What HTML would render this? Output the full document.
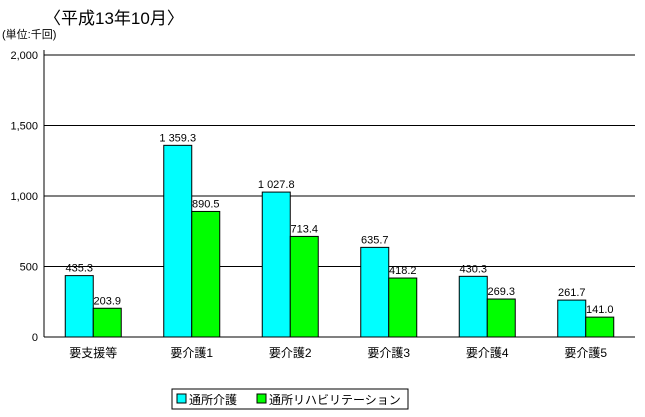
<!DOCTYPE html>
<html><head><meta charset="utf-8"><style>
body{margin:0;background:#fff;}
svg{display:block;font-family:"Liberation Sans","Noto Sans CJK JP",sans-serif;}
</style></head><body>
<svg id="chart" width="645" height="417">
<text x="44" y="24" font-size="17">〈平成13年10月〉</text>
<text x="2" y="38" font-size="11">(単位:千回)</text>
<g id="grid"></g><g id="bars"></g><g id="labels"></g>
<rect x="172" y="389" width="236" height="20" fill="#fff" stroke="#000"/>
<rect x="177" y="394" width="9" height="9" fill="#00ffff" stroke="#000"/>
<text x="189" y="404" font-size="12">通所介護</text>
<rect x="257" y="394" width="9" height="9" fill="#00ff00" stroke="#000"/>
<text x="269" y="404" font-size="12">通所リハビリテーション</text>
</svg>
<script>
const categories=["要支援等","要介護1","要介護2","要介護3","要介護4","要介護5"];
const seriesKaigo=[435.3,1359.3,1027.8,635.7,430.3,261.7];
const seriesRehab=[203.9,890.5,713.4,418.2,269.3,141.0];
const kaigoLabels=["435.3","1 359.3","1 027.8","635.7","430.3","261.7"];
const rehabLabels=["203.9","890.5","713.4","418.2","269.3","141.0"];
const yTicks=[0,500,1000,1500,2000];
const yTickLabels=["0","500","1,000","1,500","2,000"];
const NS="http://www.w3.org/2000/svg";
const X0=44,X1=635,Y0=337,Y1=55,YMAX=2000;
const gw=(X1-X0)/categories.length, bw=28;
const y=v=>Y0-(v/YMAX)*(Y0-Y1);
const gx=i=>X0+gw*i+gw/2;
function mk(tag,attrs,parent){const e=document.createElementNS(NS,tag);for(const k in attrs)e.setAttribute(k,attrs[k]);parent.appendChild(e);return e;}
const grid=document.getElementById('grid'),bars=document.getElementById('bars'),labels=document.getElementById('labels');
yTicks.forEach((t,i)=>{
 if(t>0){const l=mk('line',{x1:X0,x2:X1,y1:y(t),y2:y(t),stroke:'#000','stroke-width':1},grid);
 
 }
 const tx=mk('text',{x:X0-6,y:y(t)+4,'text-anchor':'end','font-size':11},grid);tx.textContent=yTickLabels[i];
 
 
});
const ax=mk('line',{x1:X0,x2:X0,y1:Y1-5,y2:Y0,stroke:'#000'},grid);


const bx=mk('line',{x1:X0,x2:X1,y1:Y0,y2:Y0,stroke:'#000'},grid);


categories.forEach((c,i)=>{
 const cx=gx(i);
 const r1=mk('rect',{x:cx-bw,y:y(seriesKaigo[i]),width:bw,height:Y0-y(seriesKaigo[i]),fill:'#00ffff',stroke:'#000'},bars);
 
 
 const r2=mk('rect',{x:cx,y:y(seriesRehab[i]),width:bw,height:Y0-y(seriesRehab[i]),fill:'#00ff00',stroke:'#000'},bars);
 
 
 const t1=mk('text',{x:cx-bw/2,y:y(seriesKaigo[i])-4,'text-anchor':'middle','font-size':11},labels);t1.textContent=kaigoLabels[i];
 
 
 const t2=mk('text',{x:cx+bw/2,y:y(seriesRehab[i])-4,'text-anchor':'middle','font-size':11},labels);t2.textContent=rehabLabels[i];
 
 
 const t3=mk('text',{x:cx,y:Y0+20,'text-anchor':'middle','font-size':12},labels);t3.textContent=c;
 
 
});
</script>
</body></html>
